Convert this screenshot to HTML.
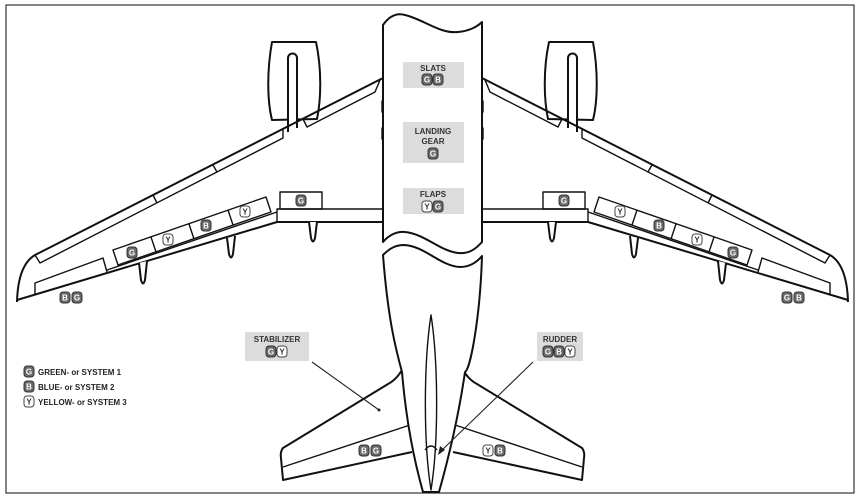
<!DOCTYPE html>
<html><head><meta charset="utf-8"><style>
html,body{margin:0;padding:0;background:#fff;}
svg{display:block;}
text{font-family:"Liberation Sans",sans-serif;font-weight:bold;}
.l{fill:none;stroke:#111;stroke-width:2;stroke-linejoin:round;}
.t{fill:none;stroke:#111;stroke-width:1.4;stroke-linejoin:round;}
.w{fill:#fff;stroke:#111;stroke-width:2;stroke-linejoin:round;}
.bx{fill:#dcdcdc;}
.lab{font-size:8px;fill:#333;text-anchor:middle;}
.bd{fill:#6a6a6a;stroke:#333;stroke-width:1;}
.bl{fill:#fff;stroke:#444;stroke-width:1;}
.bt{font-size:8px;text-anchor:middle;fill:#fff;}
.bt2{font-size:8px;text-anchor:middle;fill:#333;}
.leg{font-size:8px;fill:#222;}
</style></head><body>
<svg width="860" height="500" viewBox="0 0 860 500" xmlns="http://www.w3.org/2000/svg">
<rect x="6" y="5" width="848" height="488" fill="#fff" stroke="#333" stroke-width="1.2"/>

<g id="half">
  <!-- engine -->
  <path class="w" d="M272,42 L316,42 C322,70 321,100 317,119 L272,120 C267,100 267,70 272,42 Z"/>
  <path class="w" d="M288,132 L288,58 A4.5,4.5 0 0 1 297,58 L297,128"/>
  <!-- wing -->
  <path class="l" d="M383,78 L35,255 Q18,265 17,302"/>
  <path class="l" d="M17,300 L277,222 L383,222"/>
  <path class="t" d="M277,222 L277,209 L383,209"/>
  <rect class="t" x="280" y="192" width="42" height="17"/>
  <!-- flaps -->
  <path class="t" d="M113,250 L266,197 L271,212 L118,265 Z"/>
  <path class="t" d="M151,237 L156,252 M189,224 L194,239 M228,210 L233,225"/>
  <path class="t" d="M107,270 L277,212"/>
  <!-- aileron -->
  <path class="t" d="M35,295 L35,283 L103,258 L107,272"/>
  <!-- slats -->
  <path class="t" d="M35,255 L40,263 L283,138 L283,129"/>
  <path class="t" d="M153,195 L157,203 M213,165 L217,172"/>
  <path class="t" d="M303,119 L307,127 L375,92 L380,80"/>
  <!-- fairings -->
  <path class="w" d="M139,263 L141,280 Q143,287 145,280 L147,261"/>
  <path class="w" d="M227,238 L229,254 Q231,261 233,254 L235,236"/>
  <path class="w" d="M309,222 L311,238 Q313,245 315,238 L317,222"/>
  <!-- fuselage tabs -->
  <rect class="t" x="382" y="100" width="6" height="13" rx="1.5"/>
  <rect class="t" x="382" y="127" width="6" height="13" rx="1.5"/>
  <!-- stabilizer -->
  <path class="l" d="M402,370 Q396,380 388,384 L283,448 Q280,452 281,458 L283,480 L412,452"/>
  <path class="t" d="M283,467 L410,425"/>
  <path class="t" d="M390,293 L397,292 L400,314 L393,316 Z"/>
</g>
<g transform="translate(865,0) scale(-1,1)">
  <path class="w" d="M272,42 L316,42 C322,70 321,100 317,119 L272,120 C267,100 267,70 272,42 Z"/>
  <path class="w" d="M288,132 L288,58 A4.5,4.5 0 0 1 297,58 L297,128"/>
  <path class="l" d="M383,78 L35,255 Q18,265 17,302"/>
  <path class="l" d="M17,300 L277,222 L383,222"/>
  <path class="t" d="M277,222 L277,209 L383,209"/>
  <rect class="t" x="280" y="192" width="42" height="17"/>
  <path class="t" d="M113,250 L266,197 L271,212 L118,265 Z"/>
  <path class="t" d="M151,237 L156,252 M189,224 L194,239 M228,210 L233,225"/>
  <path class="t" d="M107,270 L277,212"/>
  <path class="t" d="M35,295 L35,283 L103,258 L107,272"/>
  <path class="t" d="M35,255 L40,263 L283,138 L283,129"/>
  <path class="t" d="M153,195 L157,203 M213,165 L217,172"/>
  <path class="t" d="M303,119 L307,127 L375,92 L380,80"/>
  <path class="w" d="M139,263 L141,280 Q143,287 145,280 L147,261"/>
  <path class="w" d="M227,238 L229,254 Q231,261 233,254 L235,236"/>
  <path class="w" d="M309,222 L311,238 Q313,245 315,238 L317,222"/>
  <rect class="t" x="382" y="100" width="6" height="13" rx="1.5"/>
  <rect class="t" x="382" y="127" width="6" height="13" rx="1.5"/>
  <path class="l" d="M402,370 Q396,380 388,384 L283,448 Q280,452 281,458 L283,480 L412,452"/>
  <path class="t" d="M283,467 L410,425"/>
  <path class="t" d="M390,293 L397,292 L400,314 L393,316 Z"/>
</g>

<!-- fuselage front -->
<path class="w" d="M383,25 C390,15 398,13 405,15 C425,20 440,34 458,32 C470,31 478,26 482,22 L482,242 C475,250 468,254 458,253 C440,251 425,234 405,232 C396,231 388,236 383,242 Z"/>
<!-- rear fuselage -->
<path class="w" d="M383,255 C390,248 396,245 404,245 C425,246 440,266 460,267 C470,267 477,262 482,256 C480,320 470,370 465,372 C458,420 448,460 439,492 L423,492 C414,460 406,420 402,372 C396,350 388,320 383,255 Z"/>
<path class="t" d="M431,315 C424,360 423,440 431,490 C439,440 438,360 431,315 Z"/>
<path class="t" d="M425,450 Q431,442 437,450"/>

<!-- label boxes -->
<rect class="bx" x="403" y="62" width="61" height="26"/>
<rect class="bx" x="403" y="122" width="61" height="41"/>
<rect class="bx" x="403" y="188" width="61" height="26"/>
<rect class="bx" x="245" y="332" width="64" height="29"/>
<rect class="bx" x="537" y="332" width="46" height="29"/>

<text class="lab" x="433" y="71">SLATS</text>
<text class="lab" x="433" y="134">LANDING</text>
<text class="lab" x="433" y="144">GEAR</text>
<text class="lab" x="433" y="197">FLAPS</text>
<text class="lab" x="277" y="342">STABILIZER</text>
<text class="lab" x="560" y="342">RUDDER</text>

<!-- leaders -->
<path d="M312,362 L379,410" stroke="#222" stroke-width="1.1" fill="none"/>
<circle cx="379" cy="410" r="1.5" fill="#222"/>
<path d="M533,362 L440,452" stroke="#222" stroke-width="1.1" fill="none"/>
<path d="M438,455 L440,446 L445,450 Z" fill="#222"/>

<!-- badges: dark G/B, light Y -->
<g>
<rect class="bd" x="422" y="74" width="10" height="11" rx="3"/><text class="bt" x="427" y="82.5">G</text>
<rect class="bd" x="433" y="74" width="10" height="11" rx="3"/><text class="bt" x="438" y="82.5">B</text>
<rect class="bd" x="428" y="148" width="10" height="11" rx="3"/><text class="bt" x="433" y="156.5">G</text>
<rect class="bl" x="422" y="201" width="10" height="11" rx="3"/><text class="bt2" x="427" y="209.5">Y</text>
<rect class="bd" x="433" y="201" width="10" height="11" rx="3"/><text class="bt" x="438" y="209.5">G</text>

<rect class="bd" x="296" y="195" width="10" height="11" rx="3"/><text class="bt" x="301" y="203.5">G</text>
<rect class="bd" x="559" y="195" width="10" height="11" rx="3"/><text class="bt" x="564" y="203.5">G</text>

<rect class="bd" x="127" y="247" width="10" height="11" rx="3"/><text class="bt" x="132" y="255.5">G</text>
<rect class="bl" x="163" y="234" width="10" height="11" rx="3"/><text class="bt2" x="168" y="242.5">Y</text>
<rect class="bd" x="201" y="220" width="10" height="11" rx="3"/><text class="bt" x="206" y="228.5">B</text>
<rect class="bl" x="240" y="206" width="10" height="11" rx="3"/><text class="bt2" x="245" y="214.5">Y</text>

<rect class="bl" x="615" y="206" width="10" height="11" rx="3"/><text class="bt2" x="620" y="214.5">Y</text>
<rect class="bd" x="654" y="220" width="10" height="11" rx="3"/><text class="bt" x="659" y="228.5">B</text>
<rect class="bl" x="692" y="234" width="10" height="11" rx="3"/><text class="bt2" x="697" y="242.5">Y</text>
<rect class="bd" x="728" y="247" width="10" height="11" rx="3"/><text class="bt" x="733" y="255.5">G</text>

<rect class="bd" x="60" y="292" width="10" height="11" rx="3"/><text class="bt" x="65" y="300.5">B</text>
<rect class="bd" x="72" y="292" width="10" height="11" rx="3"/><text class="bt" x="77" y="300.5">G</text>
<rect class="bd" x="782" y="292" width="10" height="11" rx="3"/><text class="bt" x="787" y="300.5">G</text>
<rect class="bd" x="794" y="292" width="10" height="11" rx="3"/><text class="bt" x="799" y="300.5">B</text>

<rect class="bd" x="266" y="346" width="10" height="11" rx="3"/><text class="bt" x="271" y="354.5">G</text>
<rect class="bl" x="277" y="346" width="10" height="11" rx="3"/><text class="bt2" x="282" y="354.5">Y</text>
<rect class="bd" x="543" y="346" width="10" height="11" rx="3"/><text class="bt" x="548" y="354.5">G</text>
<rect class="bd" x="554" y="346" width="10" height="11" rx="3"/><text class="bt" x="559" y="354.5">B</text>
<rect class="bl" x="565" y="346" width="10" height="11" rx="3"/><text class="bt2" x="570" y="354.5">Y</text>

<rect class="bd" x="359" y="445" width="10" height="11" rx="3"/><text class="bt" x="364" y="453.5">B</text>
<rect class="bd" x="371" y="445" width="10" height="11" rx="3"/><text class="bt" x="376" y="453.5">G</text>
<rect class="bl" x="483" y="445" width="10" height="11" rx="3"/><text class="bt2" x="488" y="453.5">Y</text>
<rect class="bd" x="495" y="445" width="10" height="11" rx="3"/><text class="bt" x="500" y="453.5">B</text>

<!-- legend -->
<rect class="bd" x="24" y="366" width="10" height="11" rx="3"/><text class="bt" x="29" y="374.5">G</text>
<rect class="bd" x="24" y="381" width="10" height="11" rx="3"/><text class="bt" x="29" y="389.5">B</text>
<rect class="bl" x="24" y="396" width="10" height="11" rx="3"/><text class="bt2" x="29" y="404.5">Y</text>
</g>
<text class="leg" x="38" y="375">GREEN- or SYSTEM 1</text>
<text class="leg" x="38" y="390">BLUE- or SYSTEM 2</text>
<text class="leg" x="38" y="405">YELLOW- or SYSTEM 3</text>
</svg>
</body></html>
